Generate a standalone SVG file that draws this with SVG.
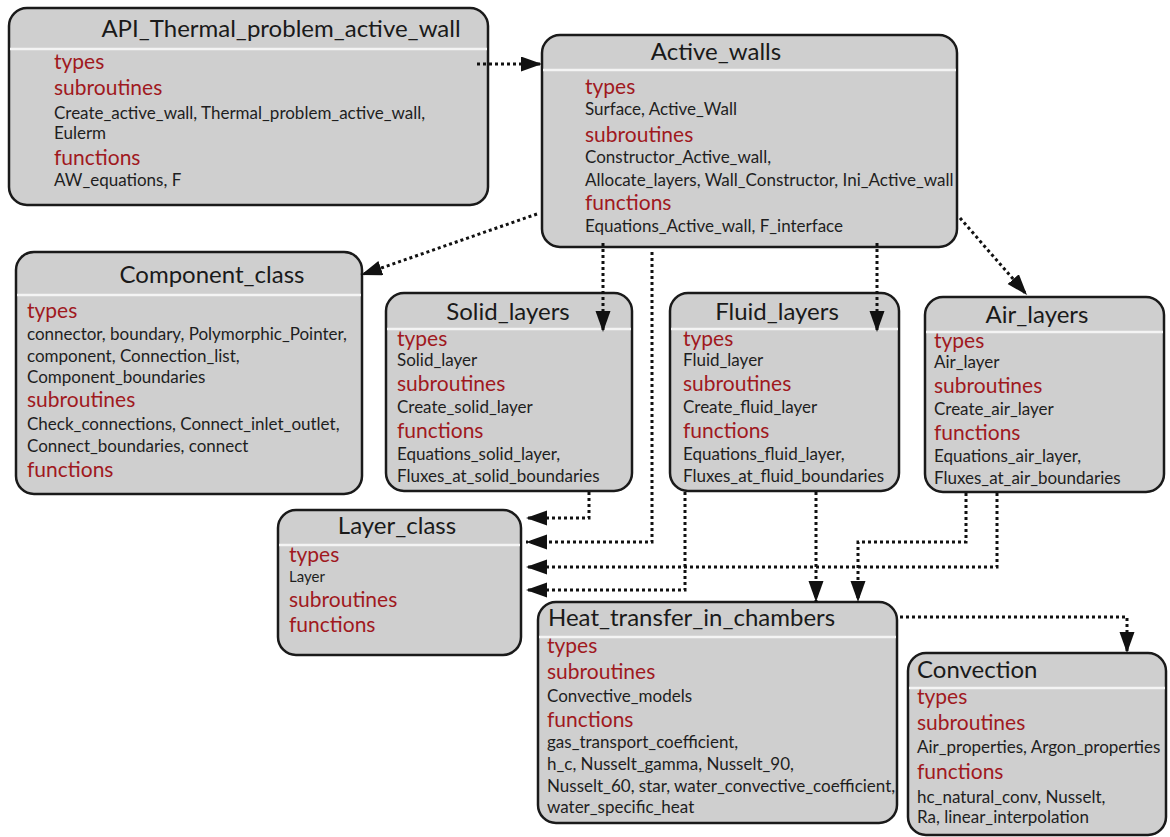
<svg xmlns="http://www.w3.org/2000/svg" width="1170" height="837" viewBox="0 0 1170 837">
<style>
text{font-family:Lato,"Liberation Sans",sans-serif}
.box{fill:#cfcfcf;stroke:#1a1a1a;stroke-width:2.5}
.dv{stroke:#f4f4f4;stroke-width:2.5}
.t{font-size:24px;fill:#1a1a1a}
.tc{font-size:24px;fill:#1a1a1a;text-anchor:middle}
.h{font-size:21px;fill:#a0191e}
.b{font-size:17px;fill:#1e1e1e}
.c{fill:none;stroke:#111;stroke-width:3;stroke-dasharray:3 3;marker-end:url(#ah)}
</style>
<defs>
<marker id="ah" markerUnits="userSpaceOnUse" markerWidth="22" markerHeight="16" refX="21" refY="7.5" orient="auto">
<path d="M0,0 L21,7.5 L0,15 z" fill="#111"/>
</marker>
</defs>
<g id="api">
<rect class="box" x="9" y="8" width="479" height="197" rx="18"/>
<line class="dv" x1="10" y1="49" x2="487" y2="49"/>
<text class="tc" x="281" y="37">API_Thermal_problem_active_wall</text>
<text class="h" x="54" y="69">types</text>
<text class="h" x="54" y="95">subroutines</text>
<text class="b" x="54" y="119">Create_active_wall, Thermal_problem_active_wall,</text>
<text class="b" x="54" y="139">Eulerm</text>
<text class="h" x="54" y="165">functions</text>
<text class="b" x="54" y="186">AW_equations, F</text>
</g>
<g id="active_walls">
<rect class="box" x="542" y="35" width="415" height="212" rx="18"/>
<line class="dv" x1="543" y1="70" x2="956" y2="70"/>
<text class="tc" x="716" y="60">Active_walls</text>
<text class="h" x="585" y="94">types</text>
<text class="b" x="585" y="115">Surface, Active_Wall</text>
<text class="h" x="585" y="142">subroutines</text>
<text class="b" x="585" y="163">Constructor_Active_wall,</text>
<text class="b" x="585" y="186">Allocate_layers, Wall_Constructor, Ini_Active_wall</text>
<text class="h" x="585" y="210">functions</text>
<text class="b" x="585" y="232">Equations_Active_wall, F_interface</text>
</g>
<g id="component_class">
<rect class="box" x="16" y="252" width="346" height="242" rx="18"/>
<line class="dv" x1="17" y1="295" x2="361" y2="295"/>
<text class="tc" x="212" y="283">Component_class</text>
<text class="h" x="27" y="318">types</text>
<text class="b" x="27" y="340">connector, boundary, Polymorphic_Pointer,</text>
<text class="b" x="27" y="362">component, Connection_list,</text>
<text class="b" x="27" y="383">Component_boundaries</text>
<text class="h" x="27" y="407">subroutines</text>
<text class="b" x="27" y="430">Check_connections, Connect_inlet_outlet,</text>
<text class="b" x="27" y="452">Connect_boundaries, connect</text>
<text class="h" x="27" y="477">functions</text>
</g>
<g id="solid_layers">
<rect class="box" x="386" y="293" width="246" height="198" rx="18"/>
<line class="dv" x1="387" y1="329" x2="631" y2="329"/>
<text class="tc" x="508" y="320">Solid_layers</text>
<text class="h" x="397" y="346">types</text>
<text class="b" x="397" y="366">Solid_layer</text>
<text class="h" x="397" y="391">subroutines</text>
<text class="b" x="397" y="413">Create_solid_layer</text>
<text class="h" x="397" y="438">functions</text>
<text class="b" x="397" y="460">Equations_solid_layer,</text>
<text class="b" x="397" y="482">Fluxes_at_solid_boundaries</text>
</g>
<g id="fluid_layers">
<rect class="box" x="670" y="293" width="229" height="198" rx="18"/>
<line class="dv" x1="671" y1="329" x2="898" y2="329"/>
<text class="tc" x="777" y="320">Fluid_layers</text>
<text class="h" x="683" y="346">types</text>
<text class="b" x="683" y="366">Fluid_layer</text>
<text class="h" x="683" y="391">subroutines</text>
<text class="b" x="683" y="413">Create_fluid_layer</text>
<text class="h" x="683" y="438">functions</text>
<text class="b" x="683" y="460">Equations_fluid_layer,</text>
<text class="b" x="683" y="482">Fluxes_at_fluid_boundaries</text>
</g>
<g id="air_layers">
<rect class="box" x="925" y="297" width="239" height="195" rx="18"/>
<line class="dv" x1="926" y1="332" x2="1163" y2="332"/>
<text class="tc" x="1037" y="323">Air_layers</text>
<text class="h" x="934" y="348">types</text>
<text class="b" x="934" y="368">Air_layer</text>
<text class="h" x="934" y="393">subroutines</text>
<text class="b" x="934" y="415">Create_air_layer</text>
<text class="h" x="934" y="440">functions</text>
<text class="b" x="934" y="462">Equations_air_layer,</text>
<text class="b" x="934" y="484">Fluxes_at_air_boundaries</text>
</g>
<g id="layer_class">
<rect class="box" x="278" y="510" width="243" height="145" rx="18"/>
<line class="dv" x1="279" y1="545" x2="520" y2="545"/>
<text class="tc" x="397" y="534">Layer_class</text>
<text class="h" x="289" y="562">types</text>
<text class="b" x="289" y="582" style="font-size:15px">Layer</text>
<text class="h" x="289" y="607">subroutines</text>
<text class="h" x="289" y="632">functions</text>
</g>
<g id="heat_transfer_in_chambers">
<rect class="box" x="538" y="602" width="359" height="221" rx="18"/>
<line class="dv" x1="539" y1="637" x2="896" y2="637"/>
<text class="t" x="548" y="626">Heat_transfer_in_chambers</text>
<text class="h" x="547" y="653">types</text>
<text class="h" x="547" y="679">subroutines</text>
<text class="b" x="547" y="702">Convective_models</text>
<text class="h" x="547" y="727">functions</text>
<text class="b" x="547" y="748">gas_transport_coefficient,</text>
<text class="b" x="547" y="770">h_c, Nusselt_gamma, Nusselt_90,</text>
<text class="b" x="547" y="792">Nusselt_60, star, water_convective_coefficient,</text>
<text class="b" x="547" y="813">water_specific_heat</text>
</g>
<g id="convection">
<rect class="box" x="908" y="653" width="258" height="182" rx="18"/>
<line class="dv" x1="909" y1="688" x2="1165" y2="688"/>
<text class="t" x="917" y="678">Convection</text>
<text class="h" x="917" y="704">types</text>
<text class="h" x="917" y="730">subroutines</text>
<text class="b" x="917" y="753">Air_properties, Argon_properties</text>
<text class="h" x="917" y="779">functions</text>
<text class="b" x="917" y="803">hc_natural_conv, Nusselt,</text>
<text class="b" x="917" y="823">Ra, linear_interpolation</text>
</g>
<g id="connectors">
<path class="c" d="M477,64 H542"/>
<path class="c" d="M537,214 L361,275"/>
<path class="c" d="M603,243 V332"/>
<path class="c" d="M877,243 V332"/>
<path class="c" d="M960,218 L1027,295"/>
<path class="c" d="M652,252 V542 H526"/>
<path class="c" d="M589,492 V518 H526"/>
<path class="c" d="M685,492 V590 H526"/>
<path class="c" d="M997,493 V567 H526"/>
<path class="c" d="M816,492 V602"/>
<path class="c" d="M966,493 V542 H858 V602"/>
<path class="c" d="M900,617 H1127 V653"/>
</g>
</svg>
